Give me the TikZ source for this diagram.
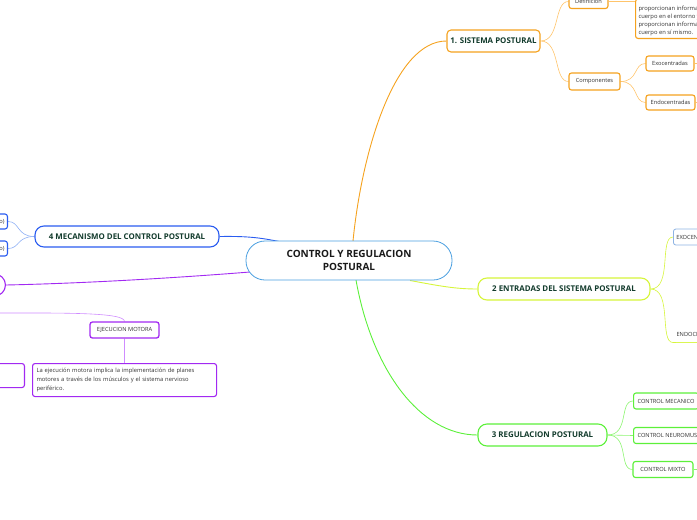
\documentclass[tikz,border=0pt]{standalone}
\usepackage{fontspec}
\setmainfont{Open Sans}
\usetikzlibrary{backgrounds}
\definecolor{cblue}{HTML}{4A9FE0}
\definecolor{orng}{HTML}{F5A21E}
\definecolor{orngl}{HTML}{FFC46B}
\definecolor{ylw}{HTML}{D6F53A}
\definecolor{grn}{HTML}{5CF03A}
\definecolor{grnl}{HTML}{8CF570}
\definecolor{blu}{HTML}{2A5CF0}
\definecolor{blul}{HTML}{8FB0F5}
\definecolor{exob}{HTML}{8EB4E3}
\definecolor{prp}{HTML}{A229F2}
\definecolor{prpl}{HTML}{CF8CFF}
\definecolor{hdr}{HTML}{123B2C}
\definecolor{lf}{HTML}{333333}
\tikzset{
  hbox/.style={draw, rounded corners=4pt, line width=1.1pt, fill=white, inner sep=0pt,
    font=\fontsize{7.9}{9}\selectfont\bfseries, text=hdr, align=center},
  lbox/.style={draw, rounded corners=2.5pt, line width=1.1pt, fill=white, inner sep=0pt,
    font=\fontsize{5.7}{7}\selectfont, text=lf, align=center},
  conn/.style={line width=0.9pt},
  thin conn/.style={line width=0.6pt}
}
\begin{document}
\begin{tikzpicture}[x=1pt,y=-1pt]
\useasboundingbox (0,0) rectangle (697,520);
\clip (0,0) rectangle (697,520);

% central
\node[draw=cblue, line width=0.8pt, rounded corners=19pt, fill=white, minimum width=206pt, minimum height=39pt,
  align=center, font=\fontsize{10}{13}\selectfont\bfseries, text=black!90] (c) at (349,260.5) {CONTROL Y REGULACION\\POSTURAL};
\coordinate (cTop) at (353,241);
\coordinate (cRight) at (410,280.5);
\coordinate (cBot) at (356,280);
\coordinate (cTL) at (284,242.5);
\coordinate (cBL) at (250,272);

% 1 sistema postural
\node[hbox, draw=orng, minimum width=93pt, minimum height=22pt] (s1) at (493.5,41) {1. SISTEMA POSTURAL};
\node[lbox, draw=orng, minimum width=39pt, minimum height=14pt] (def) at (588.5,1.5) {Definicion};
\node[lbox, draw=orng, anchor=south west, align=left, inner xsep=3pt, inner ysep=3pt,
  font=\fontsize{5.8}{8}\selectfont] (deft) at (635,39)
  {\mbox{}\\proporcionan información del\\cuerpo en el entorno y\\proporcionan información del\\cuerpo en sí mismo.};
\node[lbox, draw=orng, minimum width=51pt, minimum height=17pt] (comp) at (594.5,81.5) {Componentes};
\node[lbox, draw=orng, minimum width=48pt, minimum height=15pt] (exo) at (670,63.5) {Exocentradas};
\node[lbox, draw=orng, minimum width=49pt, minimum height=15pt] (endo) at (670.5,102.5) {Endocentradas};
\coordinate (exoR) at (705,63.5);
\coordinate (endoR) at (705,102.5);

% 2 entradas
\node[hbox, draw=ylw, rounded corners=9pt, minimum width=172pt, minimum height=22pt] (s2) at (564,289) {2 ENTRADAS DEL SISTEMA POSTURAL};
\node[lbox, draw=exob, line width=0.8pt, anchor=west, inner xsep=3pt, minimum height=16pt] (exo2) at (673,237) {EXOCENTRADAS};
\node[lbox, draw=none, anchor=west, inner xsep=3pt, minimum height=16pt] (endo2) at (673,334) {ENDOCENTRADAS};

% 3 regulacion
\node[hbox, draw=grn, rounded corners=9pt, minimum width=129pt, minimum height=22pt] (s3) at (542.5,435) {3 REGULACION POSTURAL};
\node[lbox, draw=grn, anchor=west, inner xsep=4pt, minimum height=16pt] (cm) at (633,401) {CONTROL MECANICO};
\node[lbox, draw=grn, anchor=west, inner xsep=4pt, minimum height=16pt] (cn) at (633,435.5) {CONTROL NEUROMUSCULAR};
\node[lbox, draw=grn, minimum width=60pt, minimum height=16pt] (cmx) at (663,469.5) {CONTROL MIXTO};
\coordinate (cmxR) at (705,469.5);

% 4 mecanismo
\node[hbox, draw=blu, rounded corners=9pt, minimum width=184pt, minimum height=21pt] (s4) at (127,236.5) {4 MECANISMO DEL CONTROL POSTURAL};
\node[lbox, draw=blu, anchor=east, inner xsep=3pt, minimum height=15pt] (m1) at (8,221.5) {o)};
\node[lbox, draw=blu, anchor=east, inner xsep=3pt, minimum height=15pt] (m2) at (8,248.5) {o)};

% purple branch
\node[lbox, draw=prp, rounded corners=11pt, anchor=east, minimum width=40pt, minimum height=22pt] (p0) at (6,285) {};
\coordinate (pL) at (-10,313);
\node[lbox, draw=prp, line width=1.3pt, minimum width=69pt, minimum height=16pt] (ej) at (124.5,330) {EJECUCION MOTORA};
\node[lbox, draw=prp, anchor=north west, align=left, minimum width=184pt, minimum height=33pt,
  font=\fontsize{5.8}{9}\selectfont, text width=176pt, inner xsep=4pt] (desc) at (32,363)
  {La ejecución motora implica la implementación de planes\\motores a través de los músculos y el sistema nervioso\\periférico.};
\node[lbox, draw=prp, anchor=north east, minimum width=40pt, minimum height=24pt] (pb) at (25,363) {};

\begin{scope}[on background layer]
  % main branches
  \draw[conn, orng] (cTop) .. controls (362,150) and (395,41) .. (s1.west);
  \draw[conn, ylw] (cRight) .. controls (440,286) and (455,289) .. (s2.west);
  \draw[conn, grn] (cBot) .. controls (372,370) and (420,435) .. (s3.west);
  \draw[conn, blu] (s4.east) .. controls (250,236) and (262,238) .. (cTL);
  \draw[conn, prp] (p0.east) .. controls (100,283) and (200,276) .. (cBL);
  % sistema children
  \draw[thin conn, orngl] (s1.east) .. controls +(20,0) and +(-15,0) .. (def.west);
  \draw[thin conn, orngl] (s1.east) .. controls +(20,0) and +(-15,0) .. (comp.west);
  \draw[thin conn, orngl] (def.east) -- (deft.west |- def.east);
  \draw[thin conn, orngl] (comp.east) .. controls +(18,0) and +(-12,0) .. (exo.west);
  \draw[thin conn, orngl] (comp.east) .. controls +(18,0) and +(-12,0) .. (endo.west);
  \draw[thin conn, orngl] (exo.east) -- (exoR);
  \draw[thin conn, orngl] (endo.east) -- (endoR);
  % entradas children
  \draw[thin conn, ylw] (s2.east) .. controls +(22,0) and +(-14,0) .. (exo2.west);
  \draw[thin conn, ylw] (s2.east) .. controls +(22,0) and +(-14,0) .. (endo2.south west);
  \draw[line width=1.1pt, ylw] (endo2.south west) -- (endo2.south east);
  % regulacion children
  \draw[thin conn, grnl] (s3.east) .. controls +(22,0) and +(-14,0) .. (cm.west);
  \draw[thin conn, grnl] (s3.east) -- (cn.west);
  \draw[thin conn, grnl] (s3.east) .. controls +(22,0) and +(-14,0) .. (cmx.west);
  \draw[thin conn, grnl] (cmx.east) -- (cmxR);
  % mecanismo children
  \draw[thin conn, blul] (s4.west) .. controls +(-18,0) and +(12,0) .. (m1.east);
  \draw[thin conn, blul] (s4.west) .. controls +(-18,0) and +(12,0) .. (m2.east);
  % purple
  \draw[thin conn, prpl] (pL) .. controls (60,313) and (124.5,312) .. (ej.north);
  \draw[thin conn, prpl] (ej.south) -- (desc.north);
\end{scope}
\end{tikzpicture}
\end{document}
